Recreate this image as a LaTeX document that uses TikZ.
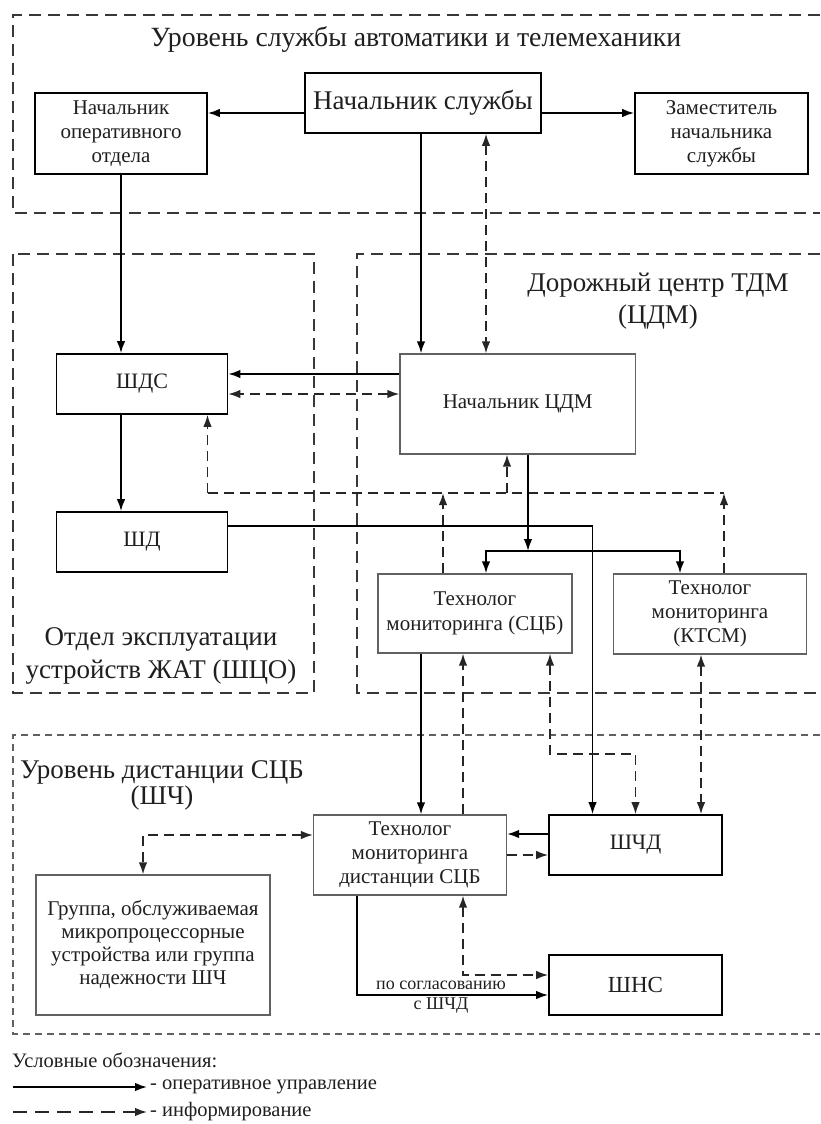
\documentclass[tikz,border=0pt]{standalone}
\usepackage{fontspec}
\setmainfont{Liberation Serif}
\usetikzlibrary{arrows.meta,calc}
\begin{document}
\begin{tikzpicture}[x=1pt,y=-1pt,
  every node/.style={text=black!88},
  bbox/.style={draw=black, line width=1.6pt, fill=white, inner sep=0pt, align=center, font=\fontsize{21}{24}\selectfont},
  gbox/.style={draw=black!62, line width=1.2pt, fill=white, inner sep=0pt, align=center, font=\fontsize{21}{24}\selectfont},
  region/.style={draw=black!78, line width=1.8pt, dash pattern=on 12pt off 7pt},
  regionthin/.style={draw=black!62, line width=1.1pt, dash pattern=on 7pt off 5pt},
  ctl/.style={draw=black, line width=1.8pt, -{Latex[length=12pt,width=8.5pt]}},
  infa/.style={draw=black!85, line width=1.6pt, dash pattern=on 10pt off 6pt, -{Latex[length=12pt,width=8.5pt]}},
  infb/.style={draw=black!85, line width=1.6pt, dash pattern=on 10pt off 6pt, {Latex[length=12pt,width=8.5pt]}-{Latex[length=12pt,width=8.5pt]}},
  infl/.style={draw=black!85, line width=1.6pt, dash pattern=on 10pt off 6pt},
  big/.style={inner sep=0pt, align=center, font=\fontsize{27}{32}\selectfont},
  small/.style={inner sep=0pt, align=center, font=\fontsize{18}{20}\selectfont},
  lgd/.style={inner sep=0pt, anchor=west, font=\fontsize{20.5}{24}\selectfont}]
\useasboundingbox (0,0) rectangle (820,1124);

% region frames
\draw[region] (820,15) -- (13,15) -- (13,213) -- (820,213);
\draw[region] (13,254) rectangle (314,693);
\draw[region] (820,254) -- (357,254) -- (357,693) -- (820,693);
\draw[regionthin] (820,735) -- (13,735) -- (13,1034) -- (820,1034);

% region titles
\node[big, font=\fontsize{27.8}{32}\selectfont] (t1) at (416,40) {Уровень службы автоматики и телемеханики};
\node[big] (t2) at (658,301) {Дорожный центр ТДМ\\(ЦДМ)};
\node[big, font=\fontsize{27}{33}\selectfont] (t3) at (161,656) {Отдел эксплуатации\\устройств ЖАТ (ШЦО)};
\node[big, font=\fontsize{27}{26}\selectfont] (t4) at (162,785) {Уровень дистанции СЦБ\\(ШЧ)};

% boxes
\node[bbox, minimum width=236pt, minimum height=60pt, font=\fontsize{27}{30}\selectfont] (ns) at (423,103) {Начальник службы};
\node[bbox, minimum width=172pt, minimum height=81pt] (noo) at (121,133.5) {Начальник\\оперативного\\отдела};
\node[bbox, minimum width=173pt, minimum height=81pt] (zns) at (721.5,133.5) {Заместитель\\начальника\\службы};
\node[bbox, minimum width=171pt, minimum height=60pt, font=\fontsize{22}{24}\selectfont] (shds) at (142,384) {ШДС};
\node[gbox, minimum width=235.5pt, minimum height=100pt] (ncdm) at (517.75,404) {Начальник ЦДМ};
\node[bbox, minimum width=171pt, minimum height=60pt, font=\fontsize{22}{24}\selectfont] (shd) at (142,542) {ШД};
\node[gbox, minimum width=194pt, minimum height=79pt, font=\fontsize{21}{25}\selectfont] (tscb) at (475,613.5) {Технолог\\мониторинга (СЦБ)};
\node[gbox, minimum width=193.5pt, minimum height=80pt] (tktsm) at (710,614) {Технолог\\мониторинга\\(КТСМ)};
\node[gbox, minimum width=193pt, minimum height=80pt] (tmd) at (410,855) {Технолог\\мониторинга\\дистанции СЦБ};
\node[bbox, minimum width=173pt, minimum height=60pt, font=\fontsize{22}{24}\selectfont] (shchd) at (635.5,845) {ШЧД};
\node[bbox, minimum width=173pt, minimum height=60pt, font=\fontsize{23}{24}\selectfont] (shns) at (635.5,985) {ШНС};
\node[gbox, minimum width=234pt, minimum height=140pt, font=\fontsize{21}{23}\selectfont] (grp) at (153,945) {Группа, обслуживаемая\\микропроцессорные\\устройства или группа\\надежности ШЧ};

% top level connectors
\draw[ctl] ([yshift=-10pt]ns.west) -- ([yshift=-10pt]ns.west -| noo.east);
\draw[ctl] ([yshift=-10pt]ns.east) -- ([yshift=-10pt]ns.east -| zns.west);
\draw[ctl] ([xshift=-2pt]ns.south) -- ([xshift=-2pt]ns.south |- ncdm.north);
\draw[infb] ([xshift=63pt]ns.south) -- ([xshift=63pt]ns.south |- ncdm.north);
\draw[ctl] (noo.south) -- (noo.south |- shds.north);

% SHDS <-> NCDM
\draw[ctl] ([yshift=30pt]ncdm.west) -- ([yshift=30pt]ncdm.west -| shds.east);
\draw[infb] ([yshift=10pt]ncdm.west) -- ([yshift=10pt]ncdm.west -| shds.east);
\draw[ctl] (shds.south -| noo.south) -- (shd.north -| noo.south);

% information bus
\coordinate (bus1) at (207.5,493);
\coordinate (bus2) at (724,493);
\coordinate (busc) at (507,493);
\draw[infl] (bus1) -- (bus2);
\draw[infa] (bus1) -- (bus1 |- shds.south);
\draw[infa] (busc) -- (busc |- ncdm.south);
\draw[infa] ([xshift=-32pt]tscb.north) -- ([xshift=-32pt]tscb.north |- bus1);
\draw[infa] ([xshift=14pt]tktsm.north) -- ([xshift=14pt]tktsm.north |- bus1);

% NCDM -> technologists
\coordinate (split) at (528,551);
\draw[ctl] (split |- ncdm.south) -- (split);
\draw[ctl] (split) -| ([xshift=11pt]tscb.north);
\draw[ctl] (split) -| ([xshift=-30pt]tktsm.north);

% SHD -> SHCHD
\draw[ctl] ([yshift=16pt]shd.east) -| ([xshift=-43pt]shchd.north);

% technologists -> distance level
\draw[ctl] ([xshift=-54pt]tscb.south) -- ([xshift=-54pt]tscb.south |- tmd.north);
\draw[infa] ([xshift=53pt]tmd.north) -- ([xshift=53pt]tmd.north |- tscb.south);
\coordinate (bend) at (600,754);
\draw[infb] ([xshift=75pt]tscb.south) |- (bend) -| (shchd.north);
\draw[infb] ([xshift=-9pt]tktsm.south) -- ([xshift=-9pt]tktsm.south |- shchd.north);

% TMD <-> SHCHD
\draw[ctl] ([yshift=11pt]shchd.west) -- ([yshift=11pt]shchd.west -| tmd.east);
\draw[infa] (tmd.east) -- (tmd.east -| shchd.west);

% TMD <-> group
\draw[infb] ([yshift=20pt]tmd.west) -| ([xshift=-10pt]grp.north);

% TMD -> SHNS
\draw[ctl] ([xshift=-53pt]tmd.south) |- ([yshift=-10pt]shns.west);
\draw[infb] ([xshift=53pt]tmd.south) |- ([yshift=10pt]shns.west);
\node[small] (l1) at (441,985) {по согласованию};
\node[small] (l2) at (441,1006) {с ШЧД};

% legend
\node[lgd] (lg0) at (12,1060) {Условные обозначения:};
\coordinate (la1) at (13,1087);
\coordinate (la2) at (147,1087);
\draw[ctl] (la1) -- (la2);
\node[lgd] (lg1) at ([xshift=3pt]la2) {- оперативное управление};
\coordinate (lb1) at (13,1112);
\coordinate (lb2) at (147,1112);
\draw[infa, dash pattern=on 14pt off 8pt] (lb1) -- (lb2);
\node[lgd] (lg2) at ([xshift=3pt]lb2) {- информирование};
\end{tikzpicture}
\end{document}
